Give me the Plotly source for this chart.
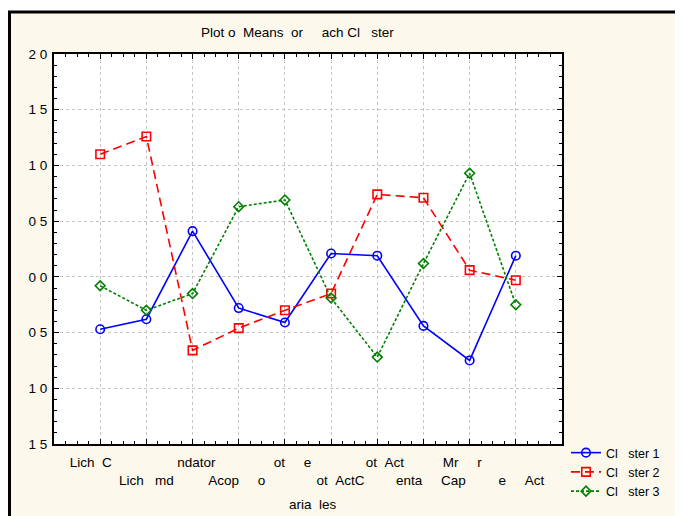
import plotly.graph_objects as go

NB = "\u00a0"

def t(s):
    return s.replace(" ", NB)

categories = ["Lich  C", "Lich   md", "ndator", "Acop     o", "ot     e",
              "ot  ActC", "ot  Act", "enta     Cap", "Mr     r", "e     Act"]
# non-breaking padding so the staggered labels sit where they do in the reference
label_pad = [(0, 5), (0, 0), (2, 0), (0, 1), (4, 0), (5, 0), (4, 0), (4, 0), (0, 4), (3, 0)]
cluster1 = [-0.47, -0.38, 0.41, -0.28, -0.41, 0.21, 0.19, -0.44, -0.75, 0.19]
cluster2 = [1.10, 1.26, -0.66, -0.46, -0.30, -0.15, 0.74, 0.71, 0.06, -0.03]
cluster3 = [-0.08, -0.30, -0.15, 0.63, 0.69, -0.19, -0.72, 0.12, 0.93, -0.25]
series_names = ["Cl   ster 1", "Cl   ster 2", "Cl   ster 3"]
y_tickvals = [-1.5, -1.0, -0.5, 0.0, 0.5, 1.0, 1.5, 2.0]
y_ticktext = ["1 5", "1 0", "0 5", "0 0", "0 5", "1 0", "1 5", "2 0"]
title_text = "Plot o  Means  or     ach Cl   ster"
xaxis_text = "aria  les"

xs = list(range(len(categories)))
xticktext = []
for i, (c, (a, b)) in enumerate(zip(categories, label_pad)):
    s = NB * a + t(c) + NB * b
    xticktext.append(s if i % 2 == 0 else "<br>" + s)

fig = go.Figure()
styles = [
    dict(color="#0000ff", dash="solid", symbol="circle-open", size=8.5),
    dict(color="#ff0000", dash="9px,5px", symbol="square-open", size=8.5),
    dict(color="#008000", dash="3px,2px", symbol="diamond-open", size=7.5),
]
for name, vals, st in zip(series_names, [cluster1, cluster2, cluster3], styles):
    fig.add_trace(go.Scatter(
        x=xs, y=vals, mode="lines+markers", name=t(name),
        line=dict(color=st["color"], width=1.6, dash=st["dash"]),
        marker=dict(symbol=st["symbol"], size=st["size"], color=st["color"],
                    line=dict(width=1.6, color=st["color"])),
    ))

# figure coordinates (page has an 8px body margin)
W, H = 675, 508
L, R, T, B = 46, 554, 46, 436
pw, ph = R - L, B - T

def px(x):
    return (x - L) / pw

def py(y):
    return (B - y) / ph

font = dict(family="Liberation Sans, Arial, sans-serif", size=13.5, color="#000000")

fig.update_layout(
    width=W, height=H,
    margin=dict(l=L, r=W - R, t=T, b=H - B, pad=0, autoexpand=False),
    paper_bgcolor="#ffffff",
    plot_bgcolor="#ffffff",
    font=font,
    showlegend=True,
    legend=dict(x=px(558), y=py(430), xanchor="left", yanchor="top",
                bgcolor="rgba(0,0,0,0)",
                font=dict(family="Liberation Sans, Arial, sans-serif", size=12.5,
                          color="#000000"),
                itemwidth=30, tracegroupgap=0),
    shapes=[
        dict(type="rect", xref="paper", yref="paper", x0=px(1.5), y0=py(4),
             x1=px(720), y1=py(560), fillcolor="#fdf8ec",
             line=dict(color="#000000", width=3), layer="below"),
        dict(type="rect", xref="paper", yref="paper", x0=0, y0=0, x1=1, y1=1,
             fillcolor="#ffffff", line=dict(width=0), layer="below"),
    ],
    annotations=[
        dict(text=t(title_text), xref="paper", yref="paper", x=px(289), y=py(25),
             showarrow=False, xanchor="center", yanchor="middle", font=font),
        dict(text=t(xaxis_text), xref="paper", yref="paper", x=px(305), y=py(497),
             showarrow=False, xanchor="center", yanchor="middle", font=font),
    ],
)

fig.update_xaxes(
    range=[-1, 10], tickmode="array", tickvals=xs, ticktext=xticktext,
    tickangle=0, automargin=False, ticklabelstandoff=5,
    showgrid=True, gridcolor="#c4c4c4", griddash="dot", gridwidth=1,
    zeroline=False, showline=True, linecolor="#000000", linewidth=2,
    mirror="allticks", ticks="inside", ticklen=5, tickcolor="#000000",
    tickfont=font,
    minor=dict(dtick=0.25, tick0=0, ticks="inside", ticklen=3,
               tickcolor="#000000", showgrid=False),
)
fig.update_yaxes(
    range=[-1.5, 2.0], tickmode="array", tickvals=y_tickvals,
    ticktext=[t(s) for s in y_ticktext], automargin=False,
    ticklabelstandoff=2,
    showgrid=True, gridcolor="#c4c4c4", griddash="dot", gridwidth=1,
    zeroline=False, showline=True, linecolor="#000000", linewidth=2,
    mirror="allticks", ticks="inside", ticklen=5, tickcolor="#000000",
    tickfont=font,
    minor=dict(dtick=0.1, tick0=0, ticks="inside", ticklen=3,
               tickcolor="#000000", showgrid=False),
)

fig.write_html("out.html")
